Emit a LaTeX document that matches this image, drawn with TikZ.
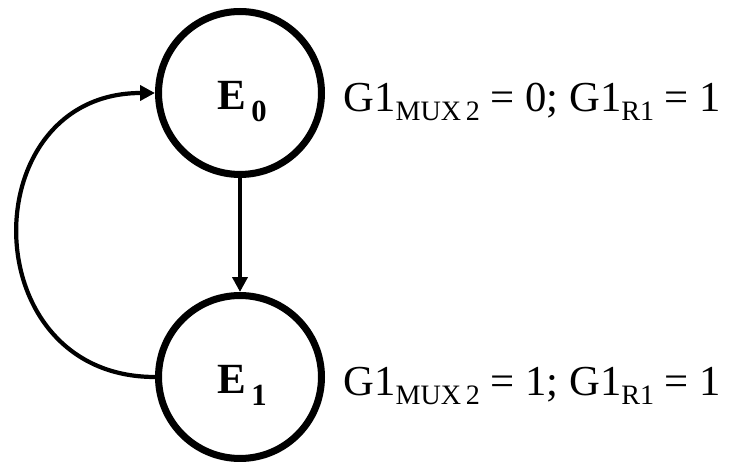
\documentclass[tikz,border=0pt]{standalone}
\usepackage{fontspec}
\setmainfont{Liberation Serif}
\usetikzlibrary{arrows.meta}

% lowered indices for the state names and the output labels
\newcommand{\snum}[1]{\raisebox{-6.8pt}{\fontsize{17.5}{20}\selectfont\bfseries #1}}
\newcommand{\idx}[1]{\raisebox{-5.1pt}{\fontsize{16}{18}\selectfont #1}}

\begin{document}
\begin{tikzpicture}[
    x=0.02cm, y=0.02cm,
    state/.style={circle, draw, line width=4pt, minimum size=3.26cm,
                  inner sep=0pt},
    sname/.style={font=\fontsize{24.5}{28}\selectfont\bfseries,
                  anchor=base, inner sep=0pt},
    cond/.style={font=\fontsize{24.3}{28}\selectfont, anchor=base west,
                 inner sep=0pt},
    flow/.style={-{Triangle[length=8.5pt, width=8.5pt]}, line width=2.4pt},
]
\useasboundingbox (0,0) rectangle (731,463);

% States
\node[state] (e0) at (240, 370) {};
\node[state] (e1) at (240, 86) {};

% State names
\node[sname] (n0) at ([shift={(2,-17)}]e0.center) {E\kern3pt\snum{0}};
\node[sname] (n1) at ([shift={(2,-17)}]e1.center) {E\kern3pt\snum{1}};

% Output values
\node[cond] (o0) at ([shift={(103,-19)}]e0.center)
    {G1\idx{MUX\,2} = 0; G1\idx{R1} = 1};
\node[cond] (o1) at ([shift={(103,-19)}]e1.center)
    {G1\idx{MUX\,2} = 1; G1\idx{R1} = 1};

% Transitions
\draw[flow] (e0) -- (e1);
\draw[flow] (e1.west) to[out=180, in=180, looseness=1.65] (e0.west);

\end{tikzpicture}
\end{document}
